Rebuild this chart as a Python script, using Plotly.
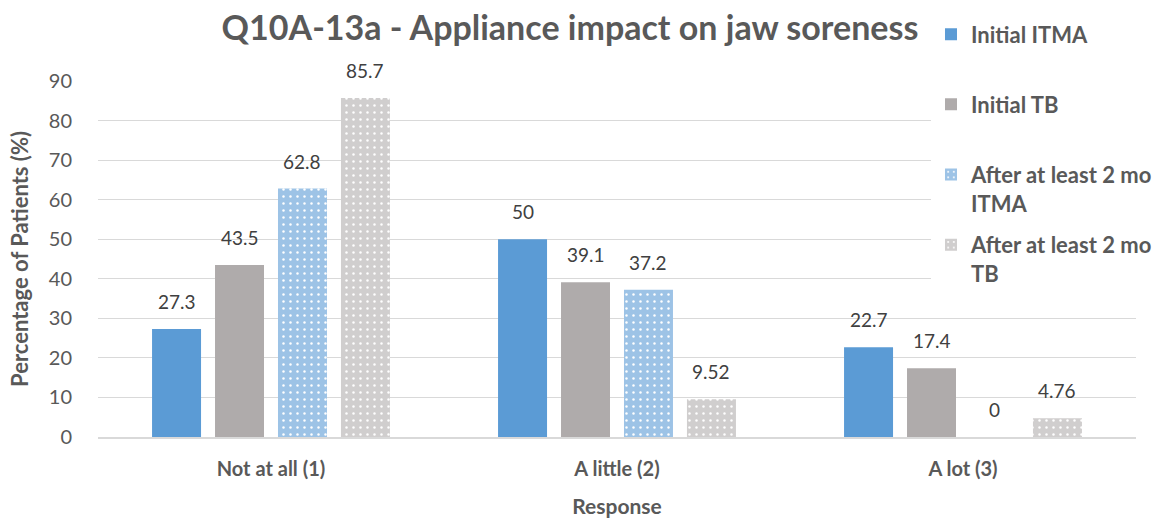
import plotly.graph_objects as go

categories = ["Not at all (1)", "A little (2)", "A lot (3)"]
initial_itma = [27.3, 50, 22.7]
initial_tb = [43.5, 39.1, 17.4]
after_itma = [62.8, 37.2, 0]
after_tb = [85.7, 9.52, 4.76]

series_names = [
    "Initial ITMA<br> ",
    "Initial TB<br> ",
    "After at least 2 mo<br>ITMA",
    "After at least 2 mo<br>TB",
]
y_ticks = [0, 10, 20, 30, 40, 50, 60, 70, 80, 90]

FONT = "Lato"
TEXT_GREY = "#595959"
LABEL_GREY = "#404040"

W, H = 1163, 521
M_L, M_R, M_T, M_B = 98, 27, 81, 84
BARGAP = 0.272
BARGROUPGAP = 0.222

styles = [
    dict(color="#5B9BD5"),
    dict(color="#AFABAB"),
    dict(color="#9DC3E6", pattern=dict(shape=".", fgcolor="white", bgcolor="#9DC3E6",
                                       size=7, solidity=0.1, fillmode="replace")),
    dict(color="#D0CECE", pattern=dict(shape=".", fgcolor="white", bgcolor="#D0CECE",
                                       size=7, solidity=0.1, fillmode="replace")),
]

all_series = [initial_itma, initial_tb, after_itma, after_tb]
n_series = len(all_series)

# pixel width of one category band, used to place value labels over each grouped bar
band_px = (W - M_L - M_R) / len(categories)
slot_px = band_px * (1 - BARGAP) / n_series

fig = go.Figure()
annotations = []
for i, (name, vals) in enumerate(zip(series_names, all_series)):
    fig.add_trace(go.Bar(
        x=categories,
        y=vals,
        name="<br>".join(f"<b>{p}</b>" if p.strip() else p for p in name.split("<br>")),
        legendgroup=f"g{i}",
        marker=dict(line=dict(width=0), **styles[i]),
    ))
    shift = (i - (n_series - 1) / 2) * slot_px
    for cat, v in zip(categories, vals):
        annotations.append(dict(
            x=cat, y=v, xref="x", yref="y",
            text=f"{v:g}", showarrow=False,
            xshift=shift, yshift=14, yanchor="bottom",
            font=dict(family=FONT, size=19, color=LABEL_GREY),
        ))

fig.update_layout(
    width=W,
    height=H,
    paper_bgcolor="white",
    plot_bgcolor="white",
    margin=dict(l=M_L, r=M_R, t=M_T, b=M_B, autoexpand=False),
    barmode="group",
    bargap=BARGAP,
    bargroupgap=BARGROUPGAP,
    title=dict(
        text="<b>Q10A-13a - Appliance impact on jaw soreness</b>",
        x=570 / W, xanchor="center",
        y=1 - 28 / H, yanchor="middle",
        font=dict(family=FONT, size=34, color=TEXT_GREY),
    ),
    legend=dict(
        x=0.8025, xanchor="left",
        y=1.19, yanchor="top",
        bgcolor="white",
        font=dict(family=FONT, size=22, color=TEXT_GREY),
        tracegroupgap=10,
        itemwidth=30,
        valign="top",
        maxheight=450,
    ),
    annotations=annotations,
    showlegend=True,
)

fig.update_xaxes(
    automargin=False,
    showgrid=False,
    showline=True,
    linecolor="#D9D9D9",
    linewidth=2,
    ticks="",
    tickvals=categories,
    ticktext=[f"<b>{c}</b>" for c in categories],
    ticklabelstandoff=13,
    tickfont=dict(family=FONT, size=20, color=TEXT_GREY),
    title=dict(text="<b>Response</b>", font=dict(family=FONT, size=21, color=TEXT_GREY), standoff=20),
)
fig.update_yaxes(
    automargin=False,
    range=[0, 90],
    tickvals=y_ticks,
    showgrid=True,
    gridcolor="#D9D9D9",
    gridwidth=1,
    zeroline=False,
    showline=False,
    ticks="",
    ticklabelstandoff=25,
    tickfont=dict(family=FONT, size=20, color=TEXT_GREY),
    title=dict(text="<b>Percentage of Patients (%)</b>", font=dict(family=FONT, size=22, color=TEXT_GREY), standoff=14),
)

fig.write_html("out.html")
